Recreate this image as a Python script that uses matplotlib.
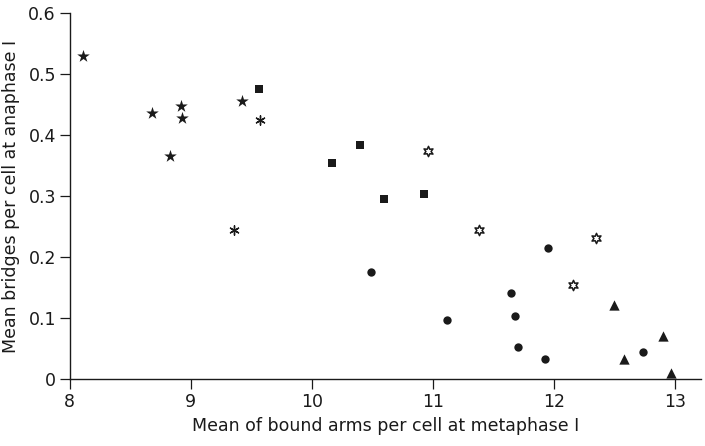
import numpy as np
import matplotlib
matplotlib.use("Agg")
import matplotlib.pyplot as plt

# filled stars
star_x = [8.11, 8.68, 8.92, 8.93, 8.83, 9.42]
star_y = [0.530, 0.436, 0.448, 0.428, 0.366, 0.456]
# asterisks
ast_x = [9.57, 9.36]
ast_y = [0.425, 0.244]
# filled squares
sq_x = [9.56, 10.17, 10.40, 10.60, 10.93]
sq_y = [0.475, 0.354, 0.384, 0.295, 0.303]
# open six-point stars
ostar_x = [10.96, 11.38, 12.35, 12.16]
ostar_y = [0.374, 0.244, 0.231, 0.154]
# filled circles
circ_x = [10.49, 11.12, 11.95, 11.65, 11.68, 11.70, 11.93, 12.74]
circ_y = [0.175, 0.097, 0.215, 0.141, 0.103, 0.052, 0.033, 0.044]
# filled triangles
tri_x = [12.50, 12.58, 12.90, 12.97]
tri_y = [0.121, 0.033, 0.070, 0.010]

xticks = [8, 9, 10, 11, 12, 13]
yticks = [0, 0.1, 0.2, 0.3, 0.4, 0.5, 0.6]
yticklabels = ["0", "0.1", "0.2", "0.3", "0.4", "0.5", "0.6"]

ink = "#1a1a1a"
plt.rcParams["font.family"] = ["DejaVu Sans"]

fig = plt.figure(figsize=(7.05, 4.46), dpi=100)
ax = fig.add_axes([0.099, 0.150, 0.896, 0.821])

ax.scatter(star_x, star_y, marker="*", s=90, color=ink, linewidths=0)
ax.scatter(ast_x, ast_y, marker=(6, 2, 0), s=45, color=ink, linewidths=1.0)
ax.scatter(sq_x, sq_y, marker="s", s=38, color=ink, linewidths=0)
ax.scatter(ostar_x, ostar_y, marker=(6, 1, 0), s=55, facecolor="white",
           edgecolor=ink, linewidths=1.1)
ax.scatter(circ_x, circ_y, marker="o", s=36, color=ink, linewidths=0)
ax.scatter(tri_x, tri_y, marker="^", s=55, color=ink, linewidths=0)

ax.set_xlim(8, 13.22)
ax.set_ylim(0, 0.6)
ax.set_xticks(xticks)
ax.set_yticks(yticks)
ax.set_yticklabels(yticklabels)

for side in ["top", "right"]:
    ax.spines[side].set_visible(False)
for side in ["left", "bottom"]:
    ax.spines[side].set_color(ink)
    ax.spines[side].set_linewidth(1.0)
ax.spines["bottom"].set_position(("data", 0))

ax.tick_params(direction="out", length=7, width=0.9, colors=ink,
               labelsize=12.5, pad=3)

ax.set_xlabel("Mean of bound arms per cell at metaphase I", fontsize=12.5,
              color=ink, labelpad=4)
ax.set_ylabel("Mean bridges per cell at anaphase I", fontsize=12.5,
              color=ink, labelpad=6)

fig.savefig("out.png", dpi=100)
